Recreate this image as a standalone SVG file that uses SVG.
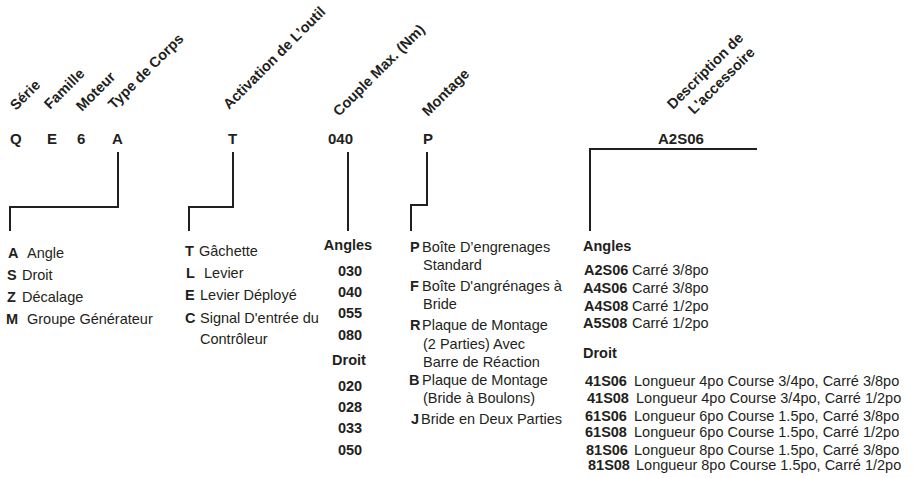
<svg xmlns="http://www.w3.org/2000/svg" width="916" height="478" viewBox="0 0 916 478">
<style>
text{font-family:"Liberation Sans",Arial,sans-serif;fill:#231f20;font-size:14.5px}
.h{font-weight:bold;font-size:14.5px}
.c{font-weight:bold;font-size:15px}
.b{font-weight:bold}
.m{text-anchor:middle}
.ln{fill:none;stroke:#231f20;stroke-width:2}
</style>
<rect width="916" height="478" fill="#fff"/>
<g id="headers">
<text class="h" x="16" y="111" transform="rotate(-45 16 111)">Série</text>
<text class="h" x="50" y="110" transform="rotate(-45 50 110)">Famille</text>
<text class="h" x="82" y="112" transform="rotate(-45 82 112)">Moteur</text>
<text class="h" x="114" y="110" transform="rotate(-45 114 110)">Type de Corps</text>
<text class="h" x="229" y="110" transform="rotate(-45 229 110)">Activation de L’outil</text>
<text class="h" x="339" y="117" transform="rotate(-45 339 117)">Couple Max. (Nm)</text>
<text class="h" x="428" y="117" transform="rotate(-45 428 117)">Montage</text>
<text class="h" x="673" y="110" transform="rotate(-45 673 110)">Description de</text>
<text class="h" x="694" y="115" transform="rotate(-45 694 115)">L'accessoire</text>
</g>
<g id="codes">
<text class="c" x="10" y="144">Q</text>
<text class="c" x="47" y="144">E</text>
<text class="c" x="77" y="144">6</text>
<text class="c" x="112" y="144">A</text>
<text class="c" x="228" y="144">T</text>
<text class="c" x="328" y="144">040</text>
<text class="c" x="423" y="144">P</text>
<text class="c" x="658" y="144">A2S06</text>
</g>
<g id="connectors">
<polyline class="ln" points="118,152 118,207 10,207 10,231"/>
<polyline class="ln" points="233,152 233,207 189,207 189,231"/>
<polyline class="ln" points="348,152 348,231"/>
<polyline class="ln" points="427,152 427,205 411,205 411,231"/>
<polyline class="ln" points="757,149 590,149 590,231"/>
</g>
<g id="type-corps">
<text x="8" y="258"><tspan class="b">A</tspan><tspan x="27">Angle</tspan></text>
<text x="7" y="280"><tspan class="b">S</tspan><tspan x="22">Droit</tspan></text>
<text x="7" y="302"><tspan class="b">Z</tspan><tspan x="22">Décalage</tspan></text>
<text x="6" y="324"><tspan class="b">M</tspan><tspan x="27">Groupe Générateur</tspan></text>
</g>
<g id="activation">
<text x="185" y="256"><tspan class="b">T</tspan><tspan x="199">Gâchette</tspan></text>
<text x="186" y="278"><tspan class="b">L</tspan><tspan x="204">Levier</tspan></text>
<text x="185" y="300"><tspan class="b">E</tspan><tspan x="200">Levier Déployé</tspan></text>
<text x="185" y="323"><tspan class="b">C</tspan><tspan x="200">Signal D'entrée du</tspan></text>
<text x="200" y="344">Contrôleur</text>
</g>
<g id="couple">
<text class="b m" x="348" y="250">Angles</text>
<text class="b m" x="350" y="276">030</text>
<text class="b m" x="350" y="297">040</text>
<text class="b m" x="350" y="318">055</text>
<text class="b m" x="350" y="340">080</text>
<text class="b m" x="349" y="365">Droit</text>
<text class="b m" x="350" y="391">020</text>
<text class="b m" x="350" y="412">028</text>
<text class="b m" x="350" y="433">033</text>
<text class="b m" x="350" y="455">050</text>
</g>
<g id="montage">
<text x="410" y="252"><tspan class="b">P</tspan><tspan x="422">Boîte D’engrenages</tspan></text>
<text x="423" y="270">Standard</text>
<text x="410" y="291"><tspan class="b">F</tspan><tspan x="422">Boîte D'angrénages à</tspan></text>
<text x="423" y="309">Bride</text>
<text x="410" y="330"><tspan class="b">R</tspan><tspan x="422">Plaque de Montage</tspan></text>
<text x="423" y="349">(2 Parties) Avec</text>
<text x="423" y="367">Barre de Réaction</text>
<text x="409" y="385"><tspan class="b">B</tspan><tspan x="422">Plaque de Montage</tspan></text>
<text x="423" y="403">(Bride à Boulons)</text>
<text x="411" y="424"><tspan class="b">J</tspan><tspan x="421">Bride en Deux Parties</tspan></text>
</g>
<g id="accessoire">
<text class="b" x="583" y="251">Angles</text>
<text x="584" y="275"><tspan class="b">A2S06</tspan><tspan x="632">Carré 3/8po</tspan></text>
<text x="583" y="293"><tspan class="b">A4S06</tspan><tspan x="632">Carré 3/8po</tspan></text>
<text x="584" y="311"><tspan class="b">A4S08</tspan><tspan x="632">Carré 1/2po</tspan></text>
<text x="583" y="328"><tspan class="b">A5S08</tspan><tspan x="632">Carré 1/2po</tspan></text>
<text class="b" x="583" y="358">Droit</text>
<text x="585" y="386"><tspan class="b">41S06</tspan><tspan x="634">Longueur 4po Course 3/4po, Carré 3/8po</tspan></text>
<text x="587" y="403"><tspan class="b">41S08</tspan><tspan x="636">Longueur 4po Course 3/4po, Carré 1/2po</tspan></text>
<text x="585" y="421"><tspan class="b">61S06</tspan><tspan x="634">Longueur 6po Course 1.5po, Carré 3/8po</tspan></text>
<text x="585" y="437"><tspan class="b">61S08</tspan><tspan x="634">Longueur 6po Course 1.5po, Carré 1/2po</tspan></text>
<text x="586" y="455"><tspan class="b">81S06</tspan><tspan x="634">Longueur 8po Course 1.5po, Carré 3/8po</tspan></text>
<text x="588" y="470"><tspan class="b">81S08</tspan><tspan x="636">Longueur 8po Course 1.5po, Carré 1/2po</tspan></text>
</g>
</svg>
